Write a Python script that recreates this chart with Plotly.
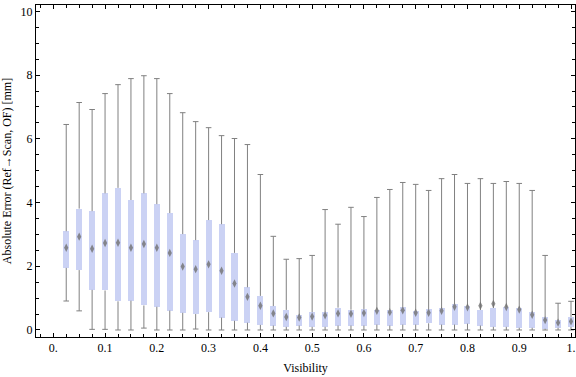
import plotly.graph_objects as go

visibility = [0.025, 0.05, 0.075, 0.1, 0.125, 0.15, 0.175, 0.2, 0.225, 0.25,
              0.275, 0.3, 0.325, 0.35, 0.375, 0.4, 0.425, 0.45, 0.475, 0.5,
              0.525, 0.55, 0.575, 0.6, 0.625, 0.65, 0.675, 0.7, 0.725, 0.75,
              0.775, 0.8, 0.825, 0.85, 0.875, 0.9, 0.925, 0.95, 0.975, 1.0]

whisker_low = [0.91, 0.60, 0.02, 0.02, 0.0, 0.0, 0.06, 0.0, 0.0, 0.0,
               0.03, 0.0, 0.0, 0.0, 0.0, 0.0, 0.0, 0.0, 0.0, 0.0,
               0.0, 0.0, 0.0, 0.0, 0.0, 0.0, 0.0, 0.0, 0.0, 0.0,
               0.0, 0.0, 0.0, 0.0, 0.0, 0.0, 0.0, 0.0, 0.0, 0.0]

q1 = [1.95, 1.88, 1.26, 1.24, 0.90, 0.92, 0.77, 0.73, 0.61, 0.54,
      0.50, 0.56, 0.39, 0.29, 0.23, 0.16, 0.14, 0.10, 0.14, 0.10,
      0.10, 0.14, 0.14, 0.14, 0.17, 0.14, 0.17, 0.17, 0.21, 0.17,
      0.17, 0.20, 0.14, 0.10, 0.10, 0.07, 0.07, 0.04, 0.07, 0.10]

center = [2.58, 2.93, 2.55, 2.73, 2.74, 2.58, 2.70, 2.58, 2.42, 1.99,
          1.91, 2.06, 1.86, 1.46, 1.04, 0.76, 0.52, 0.41, 0.39, 0.42,
          0.46, 0.52, 0.51, 0.53, 0.60, 0.56, 0.62, 0.54, 0.54, 0.60,
          0.73, 0.71, 0.76, 0.82, 0.72, 0.64, 0.48, 0.31, 0.23, 0.27]

q3 = [3.10, 3.81, 3.73, 4.29, 4.46, 4.08, 4.29, 3.95, 3.67, 3.01,
      2.82, 3.45, 3.32, 2.42, 1.34, 1.07, 0.75, 0.63, 0.47, 0.56,
      0.56, 0.70, 0.64, 0.66, 0.64, 0.64, 0.73, 0.61, 0.66, 0.69,
      0.82, 0.75, 0.63, 0.69, 0.72, 0.69, 0.56, 0.41, 0.31, 0.41]

whisker_high = [6.45, 7.14, 6.92, 7.42, 7.70, 7.89, 7.98, 7.89, 7.42, 6.82,
                6.54, 6.35, 6.10, 6.01, 5.82, 4.88, 2.94, 2.22, 2.24, 2.34,
                3.78, 3.32, 3.85, 3.56, 4.16, 4.41, 4.63, 4.57, 4.38, 4.75,
                4.88, 4.60, 4.75, 4.60, 4.66, 4.60, 4.38, 2.34, 0.84, 0.90]

x_tickvals = [0.0, 0.1, 0.2, 0.3, 0.4, 0.5, 0.6, 0.7, 0.8, 0.9, 1.0]
x_ticktext = ["0.", "0.1", "0.2", "0.3", "0.4", "0.5", "0.6", "0.7", "0.8", "0.9", "1."]
y_tickvals = [0, 2, 4, 6, 8, 10]
y_ticktext = ["0", "2", "4", "6", "8", "10"]

WHISKER = "#808080"
BOX = "#cbd2f4"
FONT = "Liberation Serif"

# whisker segments (outside the box)
wx, wy = [], []
for x, lo, a, b, hi in zip(visibility, whisker_low, q1, q3, whisker_high):
    wx += [x, x, None, x, x, None]
    wy += [lo, a, None, b, hi, None]

fig = go.Figure()

fig.add_trace(go.Bar(
    x=visibility, y=[b - a for a, b in zip(q1, q3)], base=q1,
    width=0.0116, marker=dict(color=BOX, line=dict(width=0)),
    hoverinfo="skip", showlegend=False))

fig.add_trace(go.Scatter(
    x=wx, y=wy, mode="lines", line=dict(color=WHISKER, width=1),
    hoverinfo="skip", showlegend=False))

fig.add_trace(go.Scatter(
    x=visibility + visibility, y=whisker_low + whisker_high, mode="markers",
    marker=dict(symbol="line-ew", size=4, line=dict(color=WHISKER, width=1)),
    hoverinfo="skip", showlegend=False))

fig.add_trace(go.Scatter(
    x=visibility, y=center, mode="markers",
    marker=dict(symbol="diamond-tall", size=6, color="#707070", opacity=0.8,
                line=dict(width=0)),
    showlegend=False))

axis_common = dict(
    showline=True, linecolor="black", linewidth=1, mirror="allticks",
    ticks="inside", ticklen=4, tickcolor="black", tickwidth=1,
    showgrid=False, zeroline=False,
    tickfont=dict(family=FONT, size=12, color="black"),
)

fig.update_xaxes(
    range=[-0.0334, 1.0077], tickvals=x_tickvals, ticktext=x_ticktext,
    minor=dict(dtick=0.025, tick0=0, ticks="inside", ticklen=3,
               tickcolor="black", showgrid=False),
    title=dict(text="Visibility", font=dict(family=FONT, size=12, color="black"),
               standoff=9),
    **axis_common)

fig.update_yaxes(
    range=[-0.22, 10.2], tickvals=y_tickvals, ticktext=y_ticktext,
    minor=dict(dtick=0.5, tick0=0, ticks="inside", ticklen=3,
               tickcolor="black", showgrid=False),
    title=dict(text="Absolute Error (Ref\u2192Scan, OF) [mm]",
               font=dict(family=FONT, size=12, color="black"), standoff=6),
    **axis_common)

fig.update_layout(
    width=576, height=377,
    margin=dict(l=36, r=1, t=5, b=40),
    plot_bgcolor="white", paper_bgcolor="white",
    bargap=0, showlegend=False,
)

fig.write_html("out.html",
               config={"displayModeBar": False},
               post_script="document.body.style.margin='0';document.body.style.overflow='hidden';")
